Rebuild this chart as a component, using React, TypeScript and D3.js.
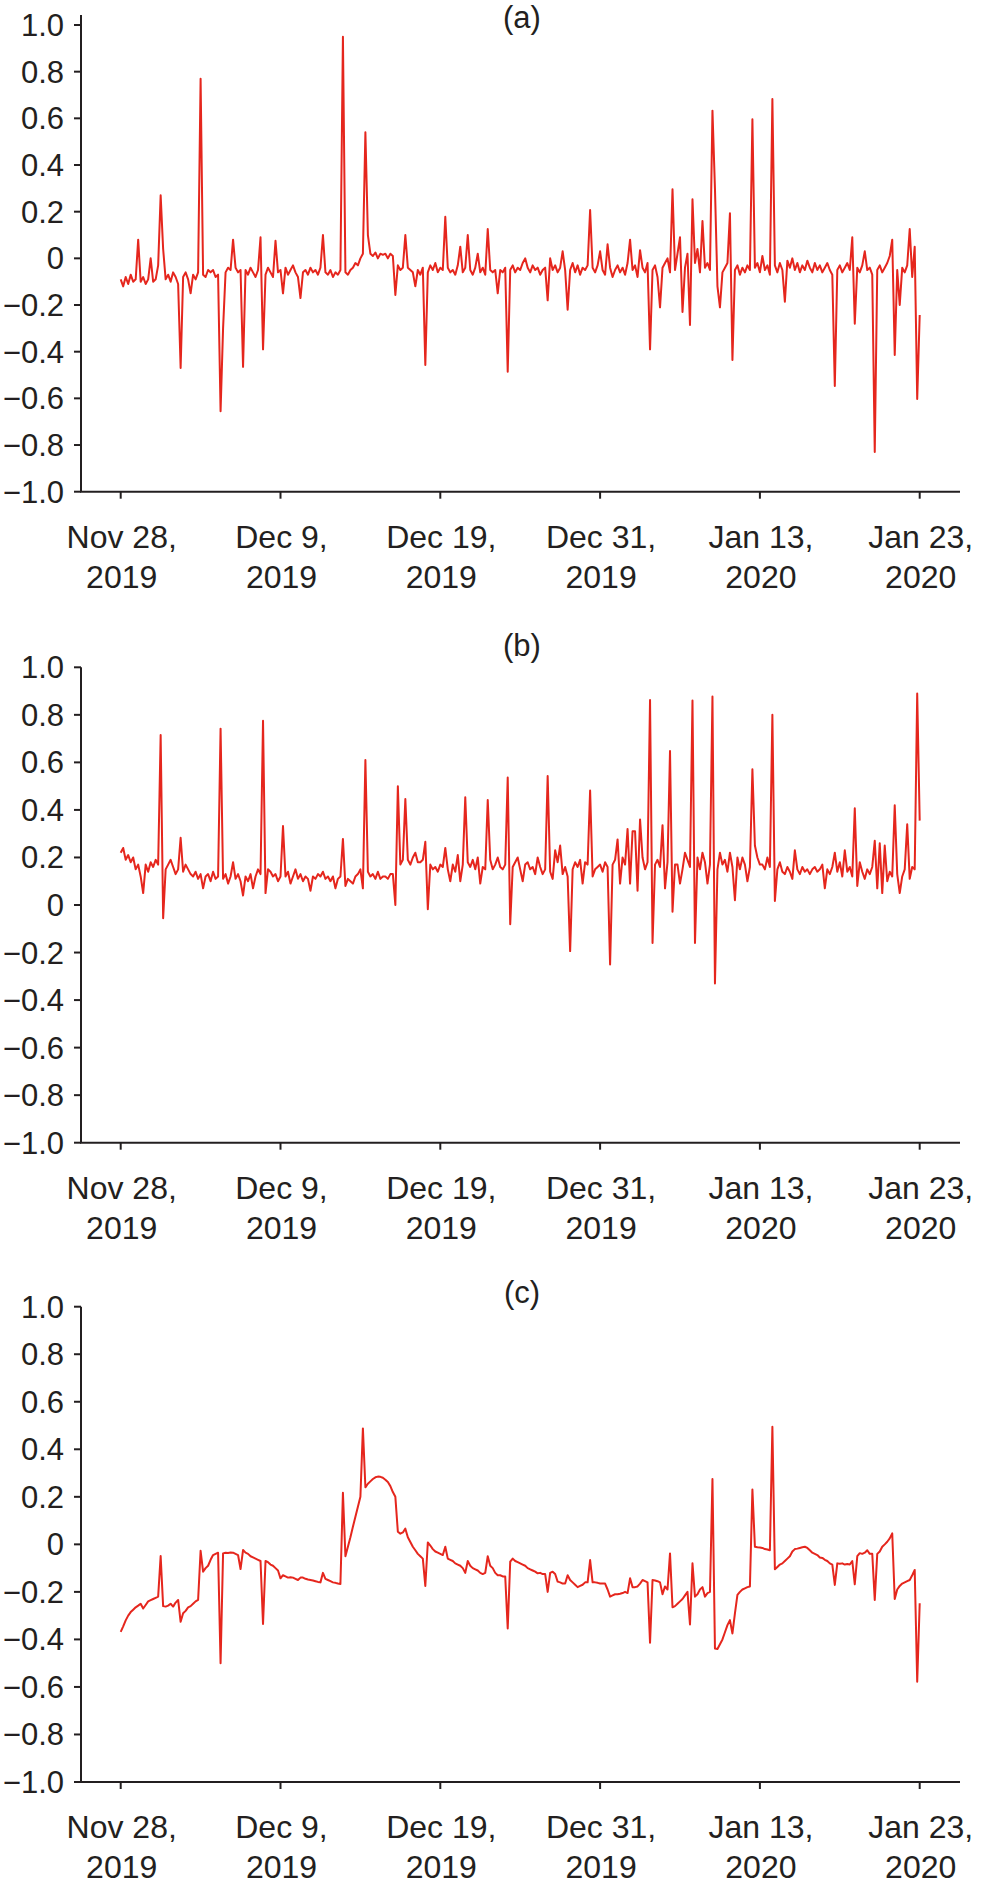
import React from 'react';
import * as d3 from 'd3';

// tick labels (evenly spaced on the index axis)
const dateLabels = [
  ['Nov 28,', '2019'],
  ['Dec 9,', '2019'],
  ['Dec 19,', '2019'],
  ['Dec 31,', '2019'],
  ['Jan 13,', '2020'],
  ['Jan 23,', '2020'],
];
const tickIndex = [0, 64, 128, 192, 256, 320];
const yTicks = [1.0, 0.8, 0.6, 0.4, 0.2, 0, -0.2, -0.4, -0.6, -0.8, -1.0];

// (a)
const seriesA = [
  -0.09, -0.12, -0.08, -0.11, -0.07, -0.10, -0.09, 0.08, -0.10, -0.08,
  -0.11, -0.09, 0.00, -0.10, -0.09, -0.03, 0.27, 0.04, -0.09, -0.07,
  -0.10, -0.06, -0.08, -0.11, -0.47, -0.08, -0.06, -0.09, -0.15, -0.07,
  -0.09, -0.06, 0.77, -0.07, -0.08, -0.05, -0.06, -0.05, -0.08, -0.07,
  -0.655, -0.30, -0.06, -0.04, -0.05, 0.08, -0.04, -0.06, -0.05, -0.465,
  -0.05, -0.07, -0.04, -0.06, -0.08, -0.05, 0.09, -0.39, -0.07, -0.04,
  -0.06, -0.08, 0.075, -0.06, -0.05, -0.15, -0.04, -0.07, -0.05, -0.03,
  -0.06, -0.08, -0.17, -0.06, -0.05, -0.07, -0.04, -0.06, -0.05, -0.07,
  -0.04, 0.10, -0.06, -0.07, -0.05, -0.08, -0.06, -0.07, -0.05, 0.95,
  -0.06, -0.07, -0.05, -0.04, -0.02, -0.03, 0.00, 0.02, 0.54, 0.10,
  0.02, 0.01, 0.025, 0.00, 0.02, 0.015, 0.02, 0.00, 0.02, 0.01,
  -0.157, -0.03, -0.05, -0.04, 0.10, -0.04, -0.05, -0.06, -0.12, -0.05,
  -0.07, -0.04, -0.457, -0.06, -0.03, -0.05, -0.02, -0.06, -0.04, -0.05,
  0.178, -0.04, -0.06, -0.05, -0.07, -0.03, 0.05, -0.06, -0.04, 0.10,
  -0.05, -0.07, -0.04, 0.02, -0.06, -0.04, -0.07, 0.126, -0.05, -0.06,
  -0.05, -0.15, -0.05, -0.06, -0.04, -0.486, -0.05, -0.03, -0.06, -0.04,
  -0.05, -0.02, 0.00, -0.04, -0.06, -0.03, -0.05, -0.04, -0.07, -0.05,
  -0.04, -0.18, 0.00, -0.05, -0.03, -0.06, -0.04, 0.03, -0.05, -0.22,
  -0.05, -0.02, -0.06, -0.03, -0.07, -0.04, -0.05, -0.03, 0.207, -0.04,
  -0.06, -0.03, 0.03, -0.05, -0.07, 0.06, -0.04, -0.08, -0.05, -0.03,
  -0.06, -0.04, -0.07, -0.02, 0.08, -0.05, -0.03, -0.08, 0.035, -0.04,
  -0.06, -0.02, -0.39, -0.05, -0.03, -0.08, -0.21, -0.04, -0.02, 0.00,
  -0.06, 0.296, -0.05, 0.02, 0.09, -0.23, -0.04, 0.02, -0.286, 0.253,
  -0.02, 0.04, -0.06, 0.16, -0.04, -0.02, -0.05, 0.633, 0.30, -0.12,
  -0.21, -0.06, -0.04, -0.02, 0.193, -0.436, -0.05, -0.03, -0.07, -0.04,
  -0.06, -0.03, -0.05, 0.596, -0.04, -0.02, -0.06, 0.01, -0.05, -0.03,
  -0.07, 0.683, -0.03, -0.06, -0.02, -0.05, -0.186, -0.01, -0.04, 0.00,
  -0.05, -0.02, -0.06, -0.03, -0.05, -0.01, -0.04, -0.06, -0.02, -0.05,
  -0.03, -0.06, -0.04, -0.02, -0.05, -0.07, -0.547, -0.05, -0.03, -0.06,
  -0.04, -0.02, -0.05, 0.09, -0.28, -0.04, -0.06, -0.03, 0.03, -0.05,
  -0.04, -0.07, -0.83, -0.05, -0.03, -0.06, -0.04, -0.02, 0.01, 0.08,
  -0.414, -0.05, -0.20, -0.04, -0.06, -0.03, 0.126, -0.08, 0.05, -0.603,
  -0.243,
];

// (b)
const seriesB = [
  0.22, 0.24, 0.19, 0.21, 0.18, 0.20, 0.15, 0.17, 0.12, 0.05,
  0.17, 0.14, 0.18, 0.16, 0.19, 0.17, 0.715, -0.056, 0.15, 0.17,
  0.19, 0.16, 0.13, 0.15, 0.283, 0.14, 0.17, 0.15, 0.13, 0.12,
  0.14, 0.11, 0.13, 0.07, 0.12, 0.13, 0.10, 0.14, 0.11, 0.12,
  0.742, 0.11, 0.13, 0.09, 0.12, 0.18, 0.11, 0.13, 0.10, 0.04,
  0.12, 0.10, 0.13, 0.07, 0.12, 0.15, 0.13, 0.775, 0.05, 0.15,
  0.14, 0.12, 0.13, 0.10, 0.12, 0.332, 0.12, 0.14, 0.09, 0.12,
  0.15, 0.11, 0.13, 0.10, 0.12, 0.11, 0.06, 0.12, 0.11, 0.13,
  0.12, 0.14, 0.11, 0.12, 0.10, 0.12, 0.07, 0.11, 0.12, 0.278,
  0.08, 0.11, 0.10, 0.09, 0.12, 0.13, 0.15, 0.07, 0.61, 0.14,
  0.12, 0.13, 0.11, 0.14, 0.11, 0.12, 0.12, 0.11, 0.13, 0.13,
  0.00, 0.50, 0.17, 0.19, 0.446, 0.19, 0.17, 0.20, 0.22, 0.18,
  0.18, 0.19, 0.266, -0.018, 0.17, 0.15, 0.16, 0.14, 0.17, 0.16,
  0.24, 0.15, 0.10, 0.17, 0.14, 0.21, 0.10, 0.17, 0.453, 0.18,
  0.16, 0.19, 0.15, 0.20, 0.09, 0.16, 0.15, 0.442, 0.19, 0.15,
  0.17, 0.20, 0.16, 0.15, 0.17, 0.536, -0.081, 0.16, 0.18, 0.20,
  0.15, 0.10, 0.17, 0.18, 0.15, 0.16, 0.13, 0.20, 0.16, 0.13,
  0.15, 0.543, 0.14, 0.11, 0.23, 0.18, 0.25, 0.13, 0.16, 0.12,
  -0.194, 0.15, 0.18, 0.16, 0.19, 0.09, 0.18, 0.17, 0.482, 0.12,
  0.15, 0.16, 0.17, 0.14, 0.18, 0.16, -0.25, 0.17, 0.19, 0.276,
  0.09, 0.20, 0.17, 0.32, 0.09, 0.31, 0.31, 0.06, 0.36, 0.20,
  0.15, 0.18, 0.862, -0.16, 0.17, 0.19, 0.16, 0.336, 0.07, 0.18,
  0.648, -0.028, 0.17, 0.17, 0.09, 0.15, 0.22, 0.19, 0.16, 0.86,
  -0.16, 0.20, 0.15, 0.22, 0.18, 0.09, 0.17, 0.877, -0.33, 0.15,
  0.22, 0.17, 0.19, 0.14, 0.22, 0.16, 0.02, 0.20, 0.15, 0.20,
  0.17, 0.10, 0.16, 0.571, 0.25, 0.20, 0.17, 0.17, 0.15, 0.20,
  0.16, 0.80, 0.017, 0.15, 0.18, 0.14, 0.13, 0.16, 0.14, 0.11,
  0.23, 0.15, 0.13, 0.16, 0.14, 0.15, 0.13, 0.15, 0.16, 0.14,
  0.15, 0.17, 0.07, 0.15, 0.13, 0.16, 0.22, 0.14, 0.18, 0.12,
  0.23, 0.14, 0.16, 0.12, 0.407, 0.08, 0.18, 0.14, 0.11, 0.15,
  0.13, 0.16, 0.27, 0.07, 0.26, 0.05, 0.25, 0.10, 0.14, 0.12,
  0.42, 0.13, 0.05, 0.12, 0.15, 0.34, 0.11, 0.16, 0.15, 0.89,
  0.355,
];

// (c)
const seriesC = [
  -0.368, -0.345, -0.32, -0.30, -0.285, -0.275, -0.265, -0.258, -0.25, -0.27,
  -0.255, -0.24, -0.235, -0.23, -0.225, -0.22, -0.049, -0.26, -0.262, -0.258,
  -0.25, -0.262, -0.245, -0.234, -0.326, -0.29, -0.28, -0.265, -0.26, -0.25,
  -0.24, -0.234, -0.027, -0.115, -0.10, -0.09, -0.065, -0.045, -0.04, -0.035,
  -0.50, -0.038, -0.035, -0.036, -0.034, -0.035, -0.04, -0.045, -0.104, -0.024,
  -0.035, -0.04, -0.05, -0.055, -0.06, -0.065, -0.07, -0.335, -0.07, -0.075,
  -0.085, -0.09, -0.10, -0.11, -0.143, -0.13, -0.135, -0.14, -0.138, -0.14,
  -0.145, -0.15, -0.14, -0.14, -0.145, -0.148, -0.15, -0.152, -0.155, -0.158,
  -0.16, -0.12, -0.145, -0.15, -0.155, -0.16, -0.162, -0.165, -0.167, 0.217,
  -0.05, -0.01, 0.03, 0.074, 0.116, 0.158, 0.20, 0.488, 0.24, 0.255,
  0.265, 0.275, 0.282, 0.285, 0.284, 0.28, 0.272, 0.262, 0.245, 0.22,
  0.20, 0.053, 0.045, 0.05, 0.066, 0.03, 0.01, -0.01, -0.025, -0.04,
  -0.05, -0.06, -0.175, 0.008, -0.005, -0.02, -0.03, -0.035, -0.04, -0.045,
  -0.01, -0.06, -0.065, -0.07, -0.08, -0.085, -0.09, -0.10, -0.12, -0.07,
  -0.09, -0.10, -0.105, -0.11, -0.12, -0.125, -0.12, -0.05, -0.09, -0.10,
  -0.12, -0.13, -0.13, -0.135, -0.135, -0.354, -0.073, -0.06, -0.07, -0.075,
  -0.08, -0.085, -0.09, -0.10, -0.105, -0.11, -0.115, -0.122, -0.12, -0.125,
  -0.125, -0.20, -0.12, -0.115, -0.125, -0.157, -0.16, -0.165, -0.165, -0.13,
  -0.15, -0.16, -0.17, -0.18, -0.175, -0.17, -0.16, -0.16, -0.066, -0.16,
  -0.16, -0.162, -0.165, -0.165, -0.165, -0.19, -0.22, -0.215, -0.21, -0.21,
  -0.208, -0.205, -0.20, -0.205, -0.143, -0.18, -0.18, -0.177, -0.165, -0.15,
  -0.155, -0.16, -0.414, -0.15, -0.152, -0.155, -0.16, -0.21, -0.177, -0.19,
  -0.038, -0.265, -0.26, -0.25, -0.24, -0.23, -0.215, -0.20, -0.337, -0.08,
  -0.22, -0.21, -0.19, -0.18, -0.22, -0.205, -0.20, 0.275, -0.438, -0.44,
  -0.42, -0.40, -0.37, -0.34, -0.319, -0.375, -0.29, -0.213, -0.20, -0.19,
  -0.185, -0.18, -0.177, 0.231, -0.01, -0.012, -0.013, -0.015, -0.02, -0.022,
  -0.025, 0.495, -0.105, -0.095, -0.085, -0.08, -0.07, -0.06, -0.05, -0.03,
  -0.02, -0.018, -0.015, -0.012, -0.01, -0.015, -0.025, -0.035, -0.04, -0.045,
  -0.055, -0.057, -0.065, -0.07, -0.08, -0.085, -0.171, -0.08, -0.082, -0.08,
  -0.085, -0.083, -0.085, -0.07, -0.168, -0.05, -0.037, -0.04, -0.035, -0.025,
  -0.04, -0.04, -0.234, -0.04, -0.03, -0.01, 0.00, 0.011, 0.025, 0.046,
  -0.23, -0.19, -0.175, -0.165, -0.16, -0.155, -0.15, -0.13, -0.108, -0.578,
  -0.248,
];

const width = 981;
const height = 1885;
const font = "'Liberation Sans', Arial, Helvetica, sans-serif";
const ink = '#231f20';
const red = '#e5261d';

// panel layout: top = y of 1.0, bottom = y of -1.0
const panels = [
  { title: '(a)', values: seriesA, top: 25, bottom: 491.7, axisTop: 15, titleY: 28 },
  { title: '(b)', values: seriesB, top: 667.3, bottom: 1142.7, axisTop: 667.3, titleY: 656 },
  { title: '(c)', values: seriesC, top: 1306.7, bottom: 1782, axisTop: 1306.7, titleY: 1303 },
];

const axisX = 81;
const x = d3.scaleLinear().domain([0, 320]).range([120.7, 919.7]);

const fmt = (v: number) => (v === 0 ? '0' : v.toFixed(1).replace('-', '\u2212'));

const Panel = ({ p }: { p: typeof panels[number] }) => {
  const y = d3.scaleLinear().domain([-1, 1]).range([p.bottom, p.top]);
  const line = d3.line<number>().x((_, i) => x(i)).y((d) => y(d));
  return (
    <g>
      <text x={522} y={p.titleY} textAnchor="middle" fontSize={31} fill={ink}>{p.title}</text>
      {/* y axis */}
      <line x1={axisX} x2={axisX} y1={p.axisTop} y2={p.bottom} stroke={ink} strokeWidth={2} />
      {yTicks.map((t) => (
        <g key={t}>
          <line x1={axisX - 7} x2={axisX} y1={y(t)} y2={y(t)} stroke={ink} strokeWidth={2} />
          <text x={64} y={y(t) + 11} textAnchor="end" fontSize={31} fill={ink}>{fmt(t)}</text>
        </g>
      ))}
      {/* x axis */}
      <line x1={axisX - 1} x2={960} y1={p.bottom} y2={p.bottom} stroke={ink} strokeWidth={2} />
      {tickIndex.map((t, k) => (
        <g key={t}>
          <line x1={x(t)} x2={x(t)} y1={p.bottom} y2={p.bottom + 7} stroke={ink} strokeWidth={2} />
          <text x={x(t) + 1} y={p.bottom + 56} textAnchor="middle" fontSize={32} fill={ink}>{dateLabels[k][0]}</text>
          <text x={x(t) + 1} y={p.bottom + 96} textAnchor="middle" fontSize={32} fill={ink}>{dateLabels[k][1]}</text>
        </g>
      ))}
      <path d={line(p.values) ?? ''} fill="none" stroke={red} strokeWidth={2} strokeLinejoin="round" />
    </g>
  );
};

export default function App() {
  return (
    <div>
      <style>{'body{margin:0}'}</style>
      <svg width={width} height={height} style={{ display: 'block', fontFamily: font, background: '#fff' }}>
        {panels.map((p) => (
          <Panel key={p.title} p={p} />
        ))}
      </svg>
    </div>
  );
}
